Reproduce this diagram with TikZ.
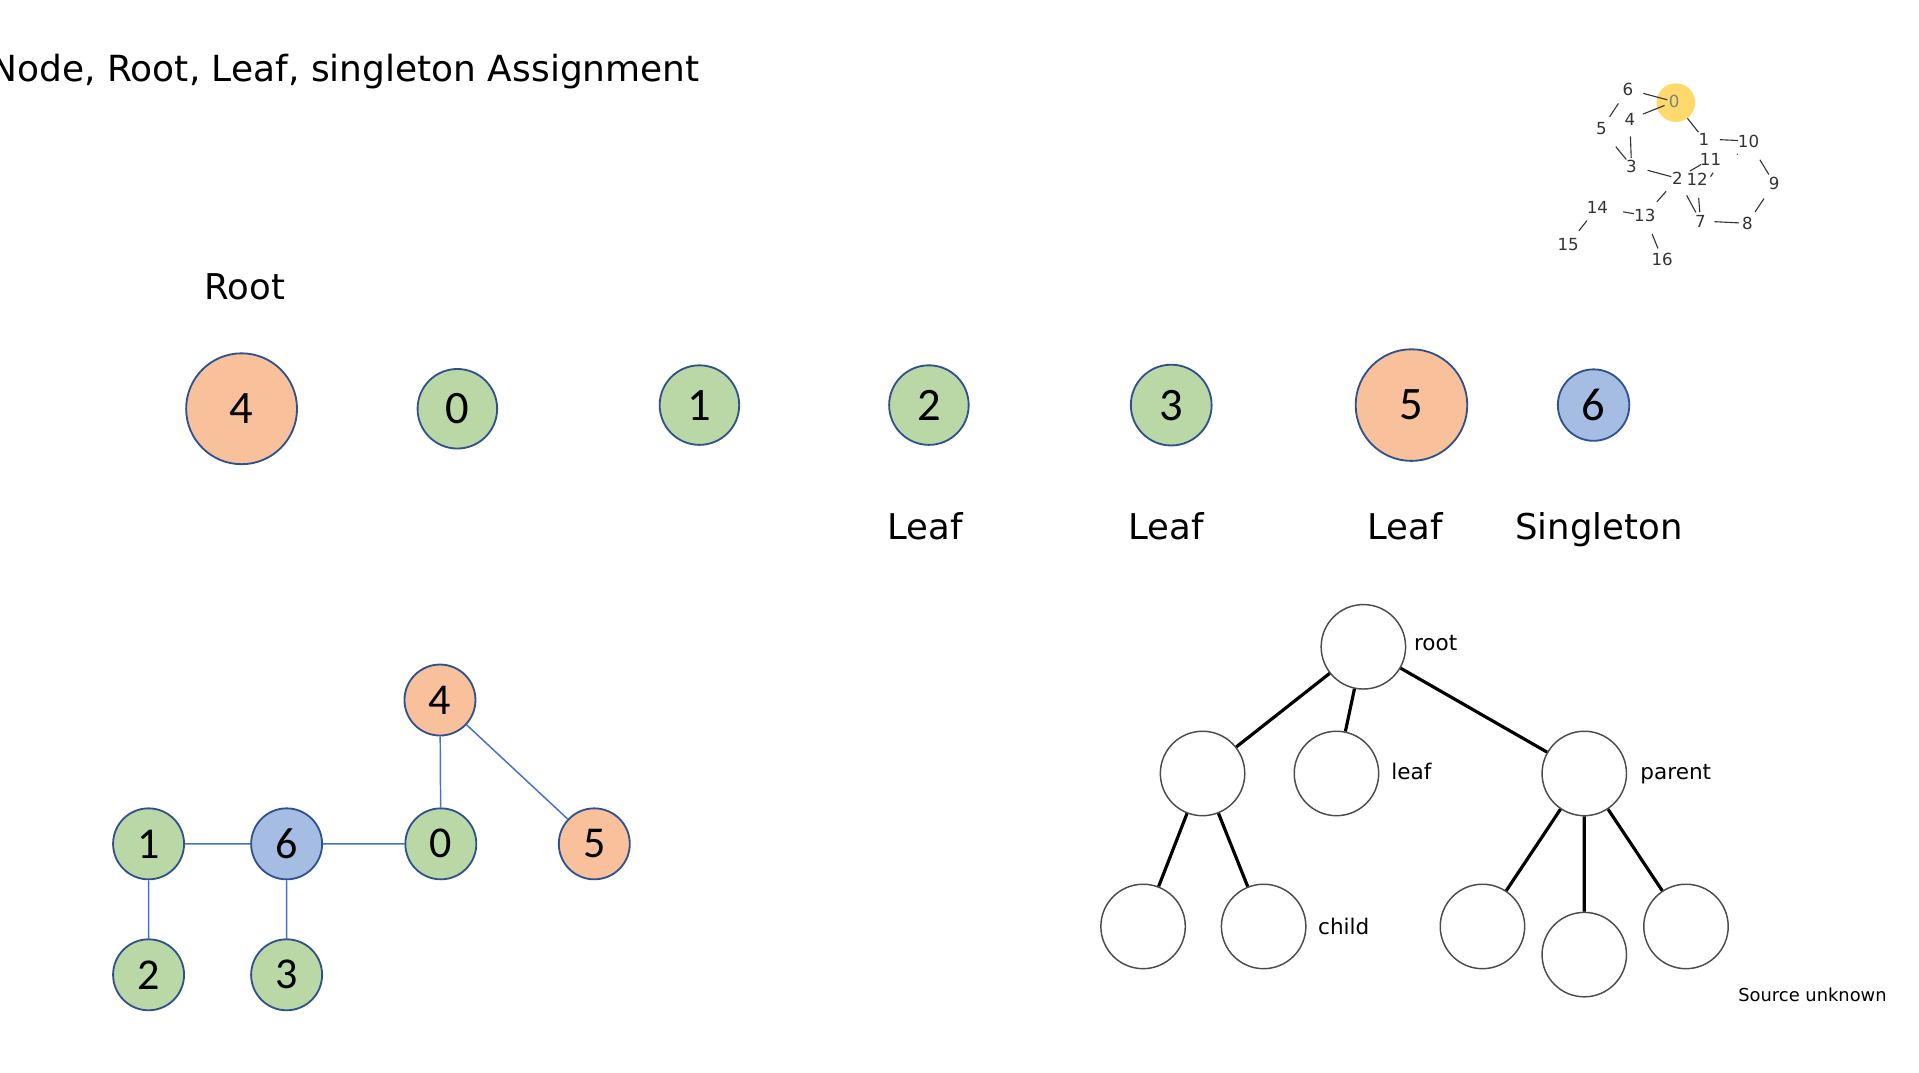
\documentclass[tikz,border=0pt]{standalone}
\usepackage{fontspec}
\setmainfont{DejaVu Sans}
\newfontfamily\numfont{Carlito}

\definecolor{nodegreen}{RGB}{186,216,166}
\definecolor{nodeorange}{RGB}{248,193,156}
\definecolor{nodeblue}{RGB}{165,189,227}
\definecolor{nodeborder}{RGB}{47,82,143}
\definecolor{edgeblue}{RGB}{68,114,196}
\definecolor{hilite}{RGB}{253,217,110}

\begin{document}
\begin{tikzpicture}[x=0.5pt,y=-0.5pt,
  vertex/.style={circle,draw=nodeborder,line width=0.75pt,inner sep=0pt},
  biglabel/.style={inner sep=0pt,font=\fontsize{14.5}{17}\selectfont},
  glabel/.style={inner sep=0pt,text=black!80,font=\fontsize{6.8}{7}\selectfont},
  treenode/.style={circle,draw=black!70,line width=0.6pt,minimum size=34.5pt,inner sep=0pt},
  treelabel/.style={inner sep=0pt,font=\fontsize{8.8}{10}\selectfont}]

\useasboundingbox (0,0) rectangle (1568,876);

\pgfmathsetmacro{\zu}{0.1362}

% title and labels
\node[biglabel,anchor=base west,font=\fontsize{14.7}{17}\selectfont] (title) at (-8,66.5) {Node, Root, Leaf, singleton Assignment};
\node[biglabel,anchor=base] (rootlbl) at (200,245) {Root};
\node[biglabel,anchor=base] (leafa) at (756,441) {Leaf};
\node[biglabel,anchor=base] (leafb) at (953,441) {Leaf};
\node[biglabel,anchor=base] (leafc) at (1148,441) {Leaf};
\node[biglabel,anchor=base] (single) at (1306.5,441) {Singleton};

% row of nodes
\foreach \lbl/\px/\py/\rad/\col in {4/197.4/334/45.3/nodeorange,0/373.7/334/32.5/nodegreen,1/571.5/331/32.5/nodegreen,2/759/331/32.5/nodegreen,3/957/331/33/nodegreen,5/1153.3/331/45.6/nodeorange,6/1302.1/331/29.2/nodeblue}
  \node[vertex,fill=\col,minimum size=\rad pt,font=\numfont\fontsize{19}{20}\selectfont] (top\lbl) at (\px,\py) {\lbl};

% small graph
\begin{scope}[shift={(1274.5,49)},x=\zu pt,y=-\zu pt,line width=0.45pt,black!80]
\fill[hilite] (348,128) circle (58);
\node[glabel] (g6) at (204,88) {6};
\node[glabel,text=black!50] (g0) at (343,125) {0};
\node[glabel] (g4) at (210,178) {4};
\node[glabel] (g5) at (125,207) {5};
\node[glabel] (g1) at (432,237) {1};
\node[glabel] (g10) at (566,243) {10};
\node[glabel] (g11) at (452,297) {11};
\node[glabel] (g3) at (215,318) {3};
\node[glabel] (g2) at (353,355) {2};
\node[glabel] (g12) at (412,358) {12};
\node[glabel] (g9) at (643,370) {9};
\node[glabel] (g14) at (113,442) {14};
\node[glabel] (g13) at (255,467) {13};
\node[glabel] (g7) at (422,483) {7};
\node[glabel] (g8) at (563,490) {8};
\node[glabel] (g15) at (25,553) {15};
\node[glabel] (g16) at (307,597) {16};
\foreach \a/\b/\s/\e in {g6/g0/48/21,g4/g0/42/31,g6/g5/51/44,g4/g3/51/24,g5/g3/68/25,g3/g2/50/19,g0/g1/64/26,g1/g10/48/32,g10/g9/66/31,g11/g2/33/43,g2/g13/52/55,g2/g7/58/29,g12/g7/56/27,g9/g8/55/41,g7/g8/42/25,g14/g13/78/33,g14/g15/51/52,g13/g16/59/34}
  \draw[shorten <=\s*\zu*1pt,shorten >=\e*\zu*1pt] (\a.center) -- (\b.center);
\draw (452,350) -- (460,338);
\fill (533,283) circle (2);
\end{scope}

% graph
\begin{scope}[every node/.style={vertex,minimum size=29pt,font=\numfont\fontsize{18}{19}\selectfont}]
\node[fill=nodeorange] (b4) at (359.5,572) {4};
\node[fill=nodegreen] (b1) at (121.4,689.5) {1};
\node[fill=nodeblue] (b6) at (234.2,689.5) {6};
\node[fill=nodegreen] (b0) at (360.2,689.5) {0};
\node[fill=nodeorange] (b5) at (485.6,689.5) {5};
\node[fill=nodegreen] (b2) at (121.4,796.5) {2};
\node[fill=nodegreen] (b3) at (234.2,796.5) {3};
\end{scope}
\draw[edgeblue,line width=0.6pt] (b1) -- (b6) (b6) -- (b0) (b0) -- (b4) (b4) -- (b5) (b1) -- (b2) (b6) -- (b3);

% tree
\node[treenode] (root) at (1114,528.5) {};
\node[treenode] (inner) at (982.6,632) {};
\node[treenode] (leaf) at (1092,632) {};
\node[treenode] (parent) at (1294.5,632) {};
\node[treenode] (ca) at (934,757) {};
\node[treenode] (cb) at (1032.5,757) {};
\node[treenode] (cc) at (1211.3,757) {};
\node[treenode] (cd) at (1294.5,780) {};
\node[treenode] (ce) at (1377.6,757) {};
\draw[line width=1.3pt] (root) -- (inner) (root) -- (leaf) (root) -- (parent)
  (inner) -- (ca) (inner) -- (cb) (parent) -- (cc) (parent) -- (cd) (parent) -- (ce);
\node[treelabel,anchor=base west] (rootname) at (1155,531.6) {root};
\node[treelabel,anchor=base west] (leafname) at (1136.5,637.3) {leaf};
\node[treelabel,anchor=base west] (parentname) at (1340,637.3) {parent};
\node[treelabel,anchor=base west] (childname) at (1076.7,763.3) {child};
\node[inner sep=0pt,anchor=base west,font=\fontsize{7.3}{8}\selectfont] (source) at (1420,818) {Source unknown};

\end{tikzpicture}
\end{document}
